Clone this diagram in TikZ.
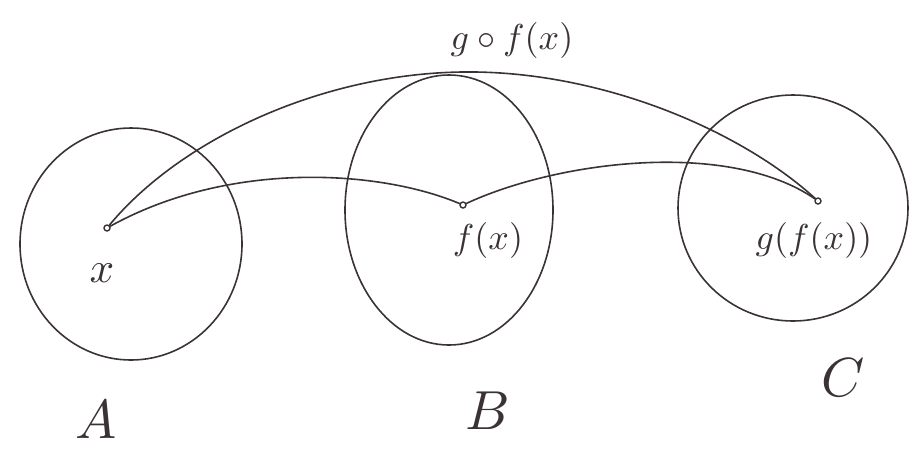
\documentclass[tikz,border=0pt]{standalone}
\usepackage{amsmath}
\usetikzlibrary{shapes.geometric}
\begin{document}
\begin{tikzpicture}[x=1pt,y=-1pt,
  ink/.style={draw=inkc,line width=1.6pt,line cap=round},
  dot/.style={circle,draw=inkc,line width=1.4pt,inner sep=0pt,minimum size=6pt},
  lbl/.style={text=inkc,font=\fontsize{10}{12}\selectfont,scale=3.6},
  setlbl/.style={text=inkc,font=\fontsize{10}{12}\selectfont,scale=5.5}]
\definecolor{inkc}{HTML}{3A3234}
\useasboundingbox (0,0) rectangle (918,451);
% sets
\node[ink,ellipse,minimum width=222pt,minimum height=232pt,inner sep=0pt] (setA) at (131,244) {};
\node[ink,ellipse,minimum width=208pt,minimum height=270pt,inner sep=0pt] (setB) at (449,210) {};
\node[ink,ellipse,minimum width=230pt,minimum height=226pt,inner sep=0pt] (setC) at (793,208) {};
% points
\node[dot] (x) at (107,228) {};
\node[dot] (fx) at (463,205) {};
\node[dot] (gfx) at (818,201) {};
\coordinate (top) at (462,72);
% connectors
\draw[ink] (x) .. controls (230,160) and (380,170) .. (fx);
\draw[ink] (fx) .. controls (560,160) and (730,140) .. (gfx);
\draw[ink] (x) .. controls (180,140) and (320,74) .. (top)
  .. controls (600,70) and (740,130) .. (gfx);
% labels
\node[lbl,scale=1.2] (lx) at (102,273) {$x$};
\node[lbl] (lfx) at (488,240) {$f(x)$};
\node[lbl] (lgfx) at (814,240) {$g(f(x))$};
\node[lbl] (lgof) at (512,40) {$g\circ f(x)$};
\node[setlbl] (lA) at (96,420) {$A$};
\node[setlbl] (lB) at (488,411) {$B$};
\node[setlbl] (lC) at (843,378) {$C$};
\end{tikzpicture}
\end{document}
